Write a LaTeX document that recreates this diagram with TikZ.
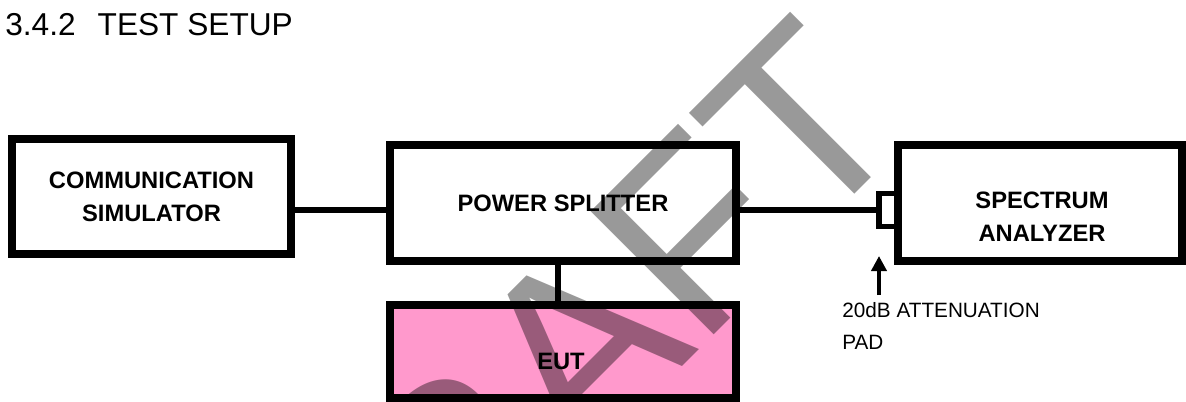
\documentclass[tikz,border=0pt]{standalone}
\usepackage{fontspec}
\setmainfont{Liberation Sans}
\usepackage{tikz}
\usetikzlibrary{arrows.meta}
\definecolor{eutpink}{RGB}{255,153,204}

\begin{document}
\begin{tikzpicture}[
    blk/.style={draw, line width=4pt, inner sep=0pt, align=center,
                font=\fontsize{13.5pt}{18.8pt}\selectfont\bfseries},
    txt/.style={inner sep=0pt, align=center,
                font=\fontsize{13.5pt}{18.8pt}\selectfont\bfseries},
    wire/.style={line width=3.7pt},
    arr/.style={-{Triangle[length=0.3cm, width=0.3cm]}, line width=2.3pt},
    lbl/.style={inner sep=0pt, align=left, font=\fontsize{11.8pt}{18.2pt}\selectfont},
  ]
    \useasboundingbox (0,0) rectangle (23.72,8.02);

    % Title
    \node[anchor=base west, inner sep=0pt, font=\fontsize{18pt}{22pt}\selectfont]
      (title) at (0.1,7.3) {3.4.2\hspace{0.44cm}TEST SETUP};

    % Nodes -- left to right
    \node[blk, minimum width=5.58cm, minimum height=2.3cm]  (sim) at (3.03,4.09)
      {COMMUNICATION\\SIMULATOR};
    \node[blk, minimum width=6.92cm, minimum height=2.32cm] (spl) at (11.26,3.96)
      {POWER SPLITTER};
    \node[blk, fill=eutpink, minimum width=6.92cm, minimum height=1.86cm] (eut) at (11.26,0.99) {};
    \node[txt] (eut-txt) at (11.22,0.8) {EUT};
    \node[blk, minimum width=5.68cm, minimum height=2.32cm] (sa)  at (20.8,3.96) {};
    \node[txt] (sa-txt) at (20.84,3.69) {SPECTRUM\\ANALYZER};
    \node[draw, line width=3.4pt, inner sep=0pt, minimum width=0.38cm,
          minimum height=0.66cm] (pad) at (17.77,3.82) {};

    % Pad label
    \coordinate (tip) at (17.58,2.9);
    \node[lbl, anchor=north west] (att) at (16.84,1.98) {20dB ATTENUATION\\PAD};

    % Connections
    \draw[wire] (sim.east |- pad) -- (spl.west |- pad);
    \draw[wire] (spl.east |- pad) -- (pad.west);
    \draw[wire] ([xshift=-0.1cm]spl.south) -- ([xshift=-0.1cm]eut.north);
    \draw[arr] ([yshift=0.14cm]att.north -| tip) -- (tip);

    % Watermark
    \begin{scope}
      \clip (0,0) rectangle (23.72,8.02);
      \node[rotate=45, anchor=base, inner sep=0pt, opacity=0.4,
            font=\fontsize{144pt}{144pt}\selectfont] (draft) at (12.4,-0.56) {DRAFT};
    \end{scope}
\end{tikzpicture}
\end{document}
